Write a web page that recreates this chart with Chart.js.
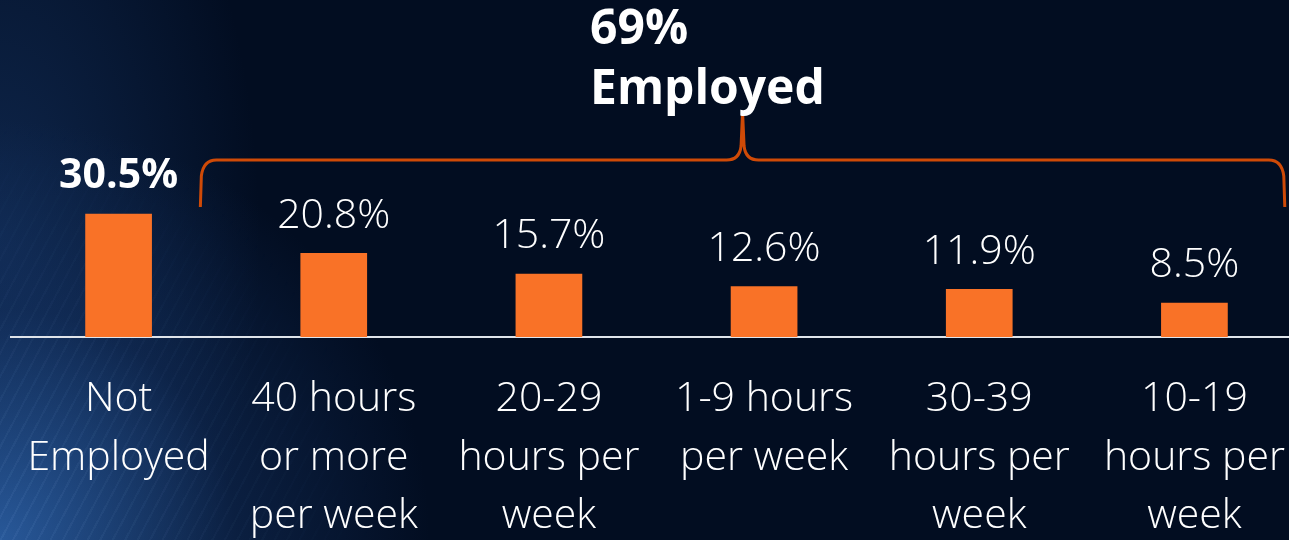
<!DOCTYPE html>
<html lang="en">
<head>
<meta charset="utf-8">
<title>Employment status</title>
<script src="https://cdn.jsdelivr.net/npm/chart.js@4.4.1/dist/chart.umd.min.js"></script>
<style>
    html, body {
        margin: 0;
        padding: 0;
        width: 1289px;
        height: 540px;
        overflow: hidden;
        background-color: #020d21;
    }
    #glow {
        position: absolute;
        left: 0;
        top: 0;
        width: 1289px;
        height: 540px;
        background-image:
            radial-gradient(ellipse 430px 420px at 0% 100%, rgba(48, 104, 178, 0.8), rgba(24, 58, 112, 0.4) 55%, rgba(2, 13, 33, 0) 100%),
            radial-gradient(ellipse 260px 520px at 0% 45%, rgba(30, 70, 130, 0.45), rgba(2, 13, 33, 0) 100%);
    }
    #streaks {
        position: absolute;
        left: 0;
        top: 0;
        width: 1289px;
        height: 540px;
        background-image: repeating-linear-gradient(118deg, rgba(150, 190, 240, 0.08) 0 2px, rgba(0, 0, 0, 0) 2px 11px);
        -webkit-mask-image: radial-gradient(ellipse 380px 420px at 0% 100%, #000, transparent);
        mask-image: radial-gradient(ellipse 380px 420px at 0% 100%, #000, transparent);
    }
    #wrap {
        position: relative;
        width: 1302px;
        height: 546px;
    }
</style>
</head>
<body>
<div id="glow"></div>
<div id="streaks"></div>
<div id="wrap"><canvas id="employmentChart"></canvas></div>
<script>
// Chart data
const categories = [
    ['Not', 'Employed'],
    ['40 hours', 'or more', 'per week'],
    ['20-29', 'hours per', 'week'],
    ['1-9 hours', 'per week'],
    ['30-39', 'hours per', 'week'],
    ['10-19', 'hours per', 'week']
];
const percentValues = [30.5, 20.8, 15.7, 12.6, 11.9, 8.5];
const valueLabels = ['30.5%', '20.8%', '15.7%', '12.6%', '11.9%', '8.5%'];
const bracketTitle = ['69%', 'Employed'];

const barColor = '#f97227';
const bracketColor = '#cf4a07';
const textColor = '#ffffff';
const fontFamily = '"Open Sans", Lato, sans-serif';

// Value labels above bars
const valueLabelPlugin = {
    id: 'valueLabels',
    afterDatasetsDraw(chart) {
        const ctx = chart.ctx;
        const meta = chart.getDatasetMeta(0);
        ctx.save();
        ctx.fillStyle = textColor;
        ctx.textAlign = 'center';
        ctx.textBaseline = 'middle';
        meta.data.forEach((bar, i) => {
            // first bar label is bold
            ctx.font = (i === 0 ? 'bold 41px ' : '350 41px ') + fontFamily;
            ctx.fillText(valueLabels[i], bar.x, bar.y - 37);
        });
        ctx.restore();
    }
};

// Bracket over the employed groups
const bracketPlugin = {
    id: 'employedBracket',
    afterDraw(chart) {
        const ctx = chart.ctx;
        const xScale = chart.scales.x;
        const left = xScale.getPixelForValue(0.38);
        const right = xScale.getPixelForValue(5.42);
        const peak = xScale.getPixelForValue(2.9);
        const top = 160;
        const bottom = 207;
        const tip = 112;

        ctx.save();
        ctx.strokeStyle = bracketColor;
        ctx.lineWidth = 3;
        ctx.lineJoin = 'round';
        ctx.beginPath();
        ctx.moveTo(left, bottom);
        ctx.lineTo(left + 1, top + 16);
        ctx.quadraticCurveTo(left + 3, top, left + 16, top);
        ctx.lineTo(peak - 16, top);
        ctx.quadraticCurveTo(peak - 3, top, peak - 1.5, top - 14);
        ctx.lineTo(peak, tip);
        ctx.lineTo(peak + 1.5, top - 14);
        ctx.quadraticCurveTo(peak + 3, top, peak + 16, top);
        ctx.lineTo(right - 16, top);
        ctx.quadraticCurveTo(right - 3, top, right - 1, top + 16);
        ctx.lineTo(right, bottom);
        ctx.stroke();

        // Title text
        ctx.fillStyle = textColor;
        ctx.font = 'bold 48px ' + fontFamily;
        ctx.textAlign = 'left';
        ctx.textBaseline = 'middle';
        ctx.fillText(bracketTitle[0], 590, 30);
        ctx.fillText(bracketTitle[1], 590, 90);
        ctx.restore();
    }
};

function createEmploymentChart() {
    const canvas = document.getElementById('employmentChart');
    canvas.width = 1302;
    canvas.height = 546;

    new Chart(canvas, {
        type: 'bar',
        data: {
            labels: categories,
            datasets: [{
                data: percentValues,
                backgroundColor: barColor,
                borderWidth: 0,
                barPercentage: 0.31,
                categoryPercentage: 1
            }]
        },
        options: {
            responsive: false,
            animation: false,
            layout: {
                padding: { left: 11, right: 0, top: 0, bottom: 0 }
            },
            plugins: {
                legend: { display: false },
                tooltip: { enabled: false }
            },
            scales: {
                x: {
                    // tick length gives the gap under the axis without side padding
                    grid: { display: false, drawTicks: true, tickLength: 33 },
                    border: { display: true, color: '#dfe4ea', width: 2 },
                    ticks: {
                        color: textColor,
                        padding: 0,
                        autoSkip: false,
                        maxRotation: 0,
                        font: { family: fontFamily, size: 41, weight: '350', lineHeight: 1.43 }
                    }
                },
                y: {
                    display: false,
                    min: 0,
                    max: 83.4
                }
            }
        },
        plugins: [valueLabelPlugin, bracketPlugin]
    });
}

document.addEventListener('DOMContentLoaded', function() {
    createEmploymentChart();
});
</script>
</body>
</html>
